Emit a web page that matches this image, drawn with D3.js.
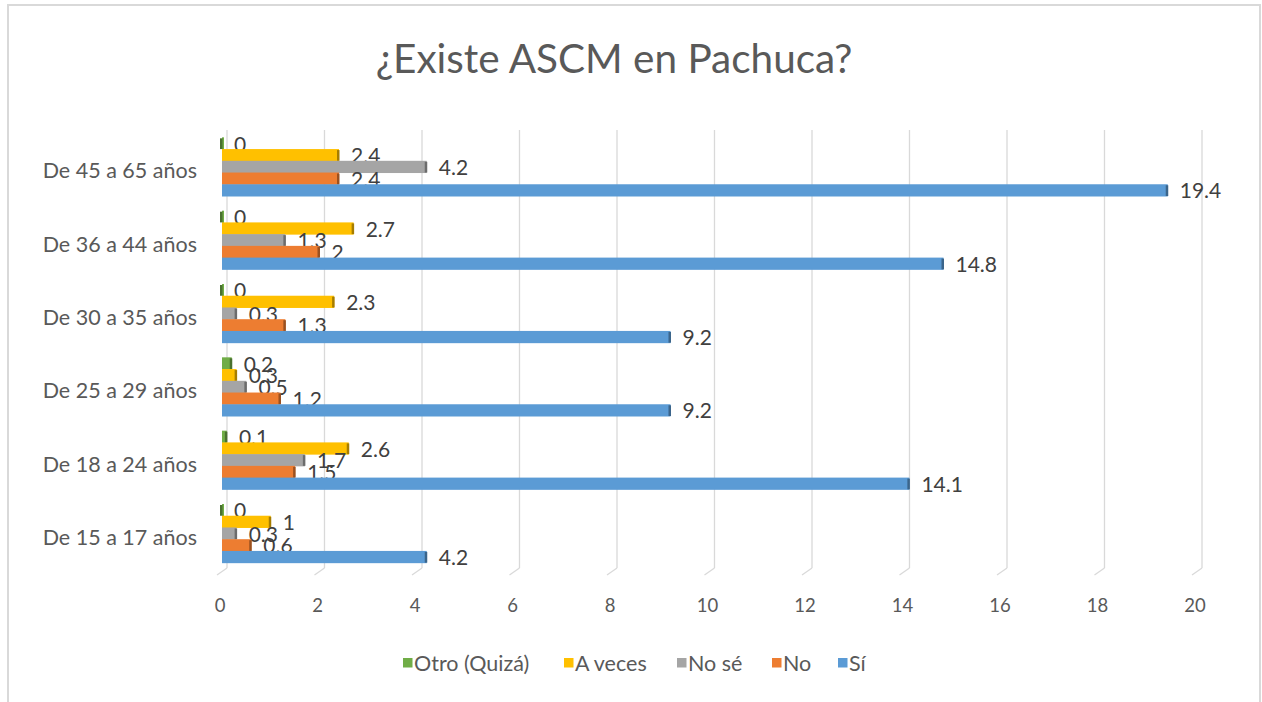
<!DOCTYPE html>
<html>
<head>
<meta charset="utf-8">
<title>¿Existe ASCM en Pachuca?</title>
<style>
  body { margin: 0; background: #fff; }
  svg { display: block; font-family: Lato, "Open Sans", sans-serif; }
  .grid line { stroke: #d9d9d9; stroke-width: 1.3px; }
  .cat text, .tick text { fill: #595959; }
  .val { fill: #404040; }
</style>
</head>
<body>
<svg width="1262" height="702"></svg>
<script src="https://cdn.jsdelivr.net/npm/d3@7/dist/d3.min.js"></script>
<script>

// categories, top to bottom as drawn
var categories = ["De 45 a 65 años", "De 36 a 44 años", "De 30 a 35 años",
                  "De 25 a 29 años", "De 18 a 24 años", "De 15 a 17 años"];

// series values, same order as categories
var si      = [19.4, 14.8, 9.2, 9.2, 14.1, 4.2];
var no      = [2.4, 2, 1.3, 1.2, 1.5, 0.6];
var noSe    = [4.2, 1.3, 0.3, 0.5, 1.7, 0.3];
var aVeces  = [2.4, 2.7, 2.3, 0.3, 2.6, 1];
var otro    = [0, 0, 0, 0.2, 0.1, 0];

var seriesNames = ["Otro (Quizá)", "A veces", "No sé", "No", "Sí"];
var seriesVals  = [otro, aVeces, noSe, no, si];
var colors      = ["#70ad47", "#ffc000", "#a5a5a5", "#ed7d31", "#5b9bd5"];
var xTicks      = [0, 2, 4, 6, 8, 10, 12, 14, 16, 18, 20];

var svg = d3.select("svg");

// chart frame
svg.append("rect")
  .attr("x", 8).attr("y", 5)
  .attr("width", 1252).attr("height", 710)
  .attr("fill", "#fff")
  .attr("stroke", "#d9d9d9")
  .attr("stroke-width", 2);

svg.append("text")
  .attr("x", 614).attr("y", 73)
  .attr("text-anchor", "middle")
  .attr("font-size", 40.5)
  .attr("fill", "#595959")
  .text("¿Existe ASCM en Pachuca?");

var x = d3.scaleLinear().domain([0, 20]).range([222, 1197]);
var depth = 5;   // fake 3d offset of the back wall

var y = d3.scaleBand().domain(categories)
  .range([130, 570]).paddingInner(0.2).paddingOuter(0.1);
var ySub = d3.scaleBand().domain(seriesNames).range([0, y.bandwidth()]);

// gridlines on back wall plus the floor slant
var grid = svg.append("g").attr("class", "grid");
grid.selectAll("line.v").data(xTicks).enter().append("line")
  .attr("class", "v")
  .attr("x1", function(d) { return x(d) + depth; })
  .attr("x2", function(d) { return x(d) + depth; })
  .attr("y1", 130).attr("y2", 568);
grid.selectAll("line.f").data(xTicks).enter().append("line")
  .attr("class", "f")
  .attr("x1", function(d) { return x(d) + depth; })
  .attr("x2", function(d) { return x(d) - depth; })
  .attr("y1", 568).attr("y2", 575);

// x tick labels
svg.append("g").attr("class", "tick")
  .selectAll("text").data(xTicks).enter().append("text")
  .attr("x", function(d) { return x(d) - 2; })
  .attr("y", 612)
  .attr("text-anchor", "middle")
  .attr("font-size", 18.5)
  .text(function(d) { return d; });

// category labels
svg.append("g").attr("class", "cat")
  .selectAll("text").data(categories).enter().append("text")
  .attr("x", 197)
  .attr("y", function(d) { return y(d) + y.bandwidth() / 2 + 4; })
  .attr("dy", "0.35em")
  .attr("text-anchor", "end")
  .attr("font-size", 21.5)
  .text(function(d) { return d; });

// bars
var rows = [];
seriesNames.forEach(function(s, si_) {
  categories.forEach(function(c, ci) {
    rows.push({ s: s, c: c, v: seriesVals[si_][ci], col: colors[si_] });
  });
});

var bars = svg.append("g").selectAll("g").data(rows).enter().append("g");

bars.append("rect")
  .attr("x", x(0))
  .attr("y", function(d) { return y(d.c) + ySub(d.s); })
  .attr("width", function(d) { return Math.max(2, x(d.v) - x(0)); })
  .attr("height", ySub.bandwidth() + 0.5)
  .attr("fill", function(d) { return d.col; });

// darker end cap for the 3d look
bars.append("rect")
  .attr("x", function(d) { return x(d.v) - 2; })
  .attr("y", function(d) { return y(d.c) + ySub(d.s) + 1; })
  .attr("width", 2.5)
  .attr("height", ySub.bandwidth() - 1)
  .attr("fill", function(d) { return d3.color(d.col).darker(1.2); });

// value labels
bars.append("text")
  .attr("class", "val")
  .attr("x", function(d) { return x(d.v) + 12; })
  .attr("y", function(d) { return y(d.c) + ySub(d.s) + ySub.bandwidth() / 2 + 1; })
  .attr("dy", "0.35em")
  .attr("font-size", 21)
  .text(function(d) { return d.v; });

// legend
var legend = svg.append("g").attr("transform", "translate(403,663)");
var lx = [0, 161, 274, 369, 435];
seriesNames.forEach(function(s, i) {
  var g = legend.append("g").attr("transform", "translate(" + lx[i] + ",0)");
  g.append("rect").attr("x", 0).attr("y", -5).attr("width", 9.5).attr("height", 9.5)
    .attr("fill", colors[i]);
  g.append("text").attr("x", 11).attr("dy", "0.35em")
    .attr("font-size", 21.5).attr("fill", "#595959").text(s);
});

</script>
</body>
</html>
